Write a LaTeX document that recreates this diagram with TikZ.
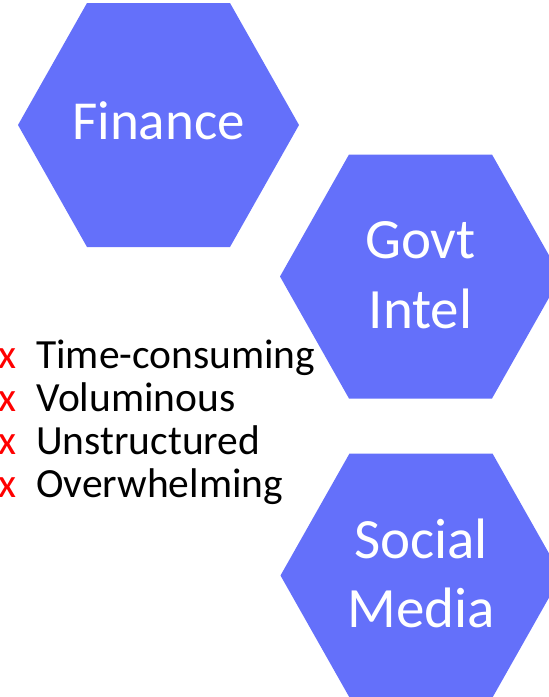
\documentclass[tikz,border=0pt]{standalone}
\usepackage{fontspec}
\setmainfont{Carlito}
\definecolor{hexblue}{RGB}{100,112,250}
\definecolor{xred}{RGB}{255,0,0}
\tikzset{
  hex/.style={fill=hexblue, draw=none},
  hexlabel/.style={text=white, anchor=base, inner sep=0pt, font=\fontsize{57}{68}\selectfont},
  listitem/.style={text=black, anchor=base west, inner sep=0pt, font=\fontsize{41.5}{48}\selectfont},
  mark x/.style={text=xred, anchor=base west, inner sep=0pt, font=\fontsize{41.5}{48}\selectfont}
}
\begin{document}
\begin{tikzpicture}[x=1pt,y=-1pt]
\useasboundingbox (0,0) rectangle (549,697);
% hexagon centres
\coordinate (cf) at (158.5,125);
\coordinate (cg) at (420.5,276.5);
\coordinate (cs) at (421,575.5);
\foreach \c in {cf,cg,cs}{
  \fill[hex] (\c) +(140.5,0) -- +(71.5,-122) -- +(-71.5,-122) -- +(-140.5,0) -- +(-71.5,122) -- +(71.5,122) -- cycle;
}
% labels
\node[hexlabel, font=\fontsize{55}{66}\selectfont] (finance) at (158.5,139) {Finance};
\node[hexlabel] (govt) at (420.5,258) {Govt};
\node[hexlabel] (intel) at (420.5,328) {Intel};
\node[hexlabel] (social) at (421,558) {Social};
\node[hexlabel] (media) at (421,627) {Media};
% list
\node[mark x] (x1) at (-1.5,368) {x};
\node[mark x] (x2) at (-1.5,411) {x};
\node[mark x] (x3) at (-1.5,454) {x};
\node[mark x] (x4) at (-1.5,497) {x};
\node[listitem] (l1) at (36,368) {Time-consuming};
\node[listitem] (l2) at (36,411) {Voluminous};
\node[listitem] (l3) at (36,454) {Unstructured};
\node[listitem] (l4) at (36,497) {Overwhelming};
\end{tikzpicture}
\end{document}
